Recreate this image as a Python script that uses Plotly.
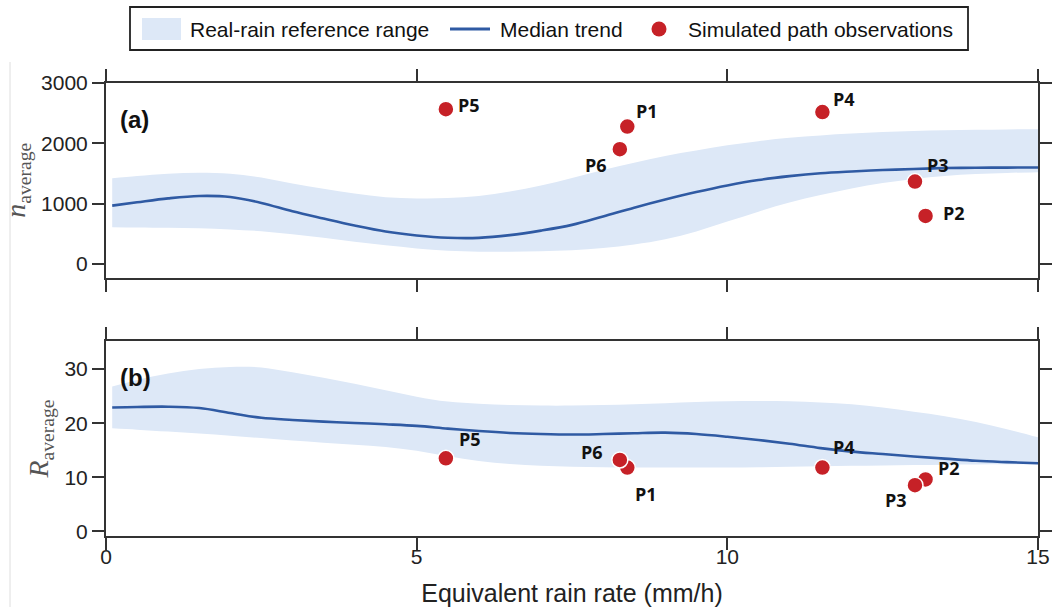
import plotly.graph_objects as go

# ---------------- data ----------------
rain_grid = [0.1, 0.5, 1.0, 1.5, 2.0, 2.5, 3.0, 3.5, 4.0, 4.5, 5.0, 5.5, 6.0, 6.5, 7.0, 7.5,
             8.0, 8.5, 9.0, 9.5, 10.0, 10.5, 11.0, 11.5, 12.0, 12.5, 13.0, 13.5, 14.0, 14.5, 15.0]

n_median = [965, 1020, 1085, 1125, 1108, 1010, 870, 750, 635, 535, 470, 432, 430, 475, 550, 645,
            785, 930, 1065, 1190, 1300, 1390, 1455, 1503, 1532, 1555, 1573, 1588, 1594, 1596, 1597]
n_upper = [1420, 1455, 1495, 1512, 1495, 1430, 1330, 1245, 1165, 1105, 1085, 1090, 1125, 1200, 1300, 1425,
           1555, 1675, 1790, 1880, 1965, 2035, 2090, 2130, 2160, 2185, 2203, 2216, 2224, 2230, 2234]
n_lower = [606, 602, 597, 590, 570, 540, 490, 430, 365, 305, 255, 215, 200, 200, 208, 225,
           260, 318, 405, 535, 700, 865, 1015, 1140, 1250, 1340, 1408, 1458, 1490, 1508, 1520]

r_median = [22.9, 23.0, 23.05, 22.8, 21.9, 21.0, 20.6, 20.3, 20.05, 19.8, 19.5, 19.0, 18.55, 18.2, 18.0, 17.9,
            18.0, 18.15, 18.25, 18.0, 17.5, 16.9, 16.2, 15.4, 14.75, 14.3, 13.85, 13.45, 13.05, 12.8, 12.6]
r_upper = [26.8, 28.0, 29.2, 30.0, 30.4, 30.3, 29.4, 28.4, 27.3, 26.1, 24.9, 24.0, 23.6, 23.35, 23.25, 23.25,
           23.35, 23.5, 23.7, 23.9, 24.05, 24.1, 24.05, 23.85, 23.5, 22.9, 22.1, 21.3, 20.2, 18.9, 17.4]
r_lower = [19.05, 18.8, 18.45, 18.1, 17.7, 17.25, 16.8, 16.4, 16.0, 15.6, 14.9, 13.9, 13.0, 12.45, 12.15, 11.95,
           11.85, 11.8, 11.8, 11.8, 11.8, 11.85, 11.95, 12.05, 12.12, 12.2, 12.27, 12.33, 12.38, 12.4, 12.4]

path_names = ["P1", "P2", "P3", "P4", "P5", "P6"]
path_rain = [8.39, 13.19, 13.02, 11.53, 5.47, 8.27]
path_n = [2277, 794, 1364, 2517, 2566, 1902]
path_r = [11.8, 9.6, 8.55, 11.8, 13.5, 13.2]

legend_labels = ["Real-rain reference range", "Median trend", "Simulated path observations"]

x_ticks = [0, 5, 10, 15]
n_ticks = [0, 1000, 2000, 3000]
r_ticks = [0, 10, 20, 30]

# ---------------- style ----------------
W, H = 1052, 607
ML, MR, MT, MB = 106, 14, 83, 71
PW, PH = W - ML - MR, H - MT - MB

FONT = "Liberation Sans, Arial, sans-serif"
AX = "#333333"
BAND = "rgb(221,232,247)"
LINE = "#2f5aa3"
RED = "#c62127"


def px(xp):
    return (xp - ML) / PW


def py(yp):
    return (H - MB - yp) / PH


# label offsets (pixels) for point labels: (dx, dy) with dy positive downward
label_off_a = {"P1": (20, -16), "P2": (28, -3), "P3": (23, -17), "P4": (22, -13), "P5": (23, -4), "P6": (-24, 16)}
label_off_b = {"P1": (19, 26), "P2": (23, -11), "P3": (-19, 15), "P4": (22, -21), "P5": (24, -19), "P6": (-28, -8)}

fig = go.Figure()


def add_panel(xa, ya, upper, lower, median, pts):
    fig.add_trace(go.Scatter(x=rain_grid, y=upper, mode="lines", line=dict(width=0, shape="spline"),
                             showlegend=False, hoverinfo="skip", xaxis=xa, yaxis=ya))
    fig.add_trace(go.Scatter(x=rain_grid, y=lower, mode="lines", line=dict(width=0, shape="spline"),
                             fill="tonexty", fillcolor=BAND, name=legend_labels[0],
                             showlegend=False, xaxis=xa, yaxis=ya))
    fig.add_trace(go.Scatter(x=rain_grid, y=median, mode="lines", line=dict(width=2.6, color=LINE, shape="spline"),
                             name=legend_labels[1], showlegend=False, xaxis=xa, yaxis=ya))
    fig.add_trace(go.Scatter(x=path_rain, y=pts, mode="markers",
                             marker=dict(size=16, color=RED, line=dict(width=1.5, color="white")),
                             name=legend_labels[2], showlegend=False,
                             text=path_names, xaxis=xa, yaxis=ya))


add_panel("x", "y", n_upper, n_lower, n_median, path_n)
add_panel("x2", "y2", r_upper, r_lower, r_median, path_r)

annotations = []
for name, xv, yv in zip(path_names, path_rain, path_n):
    dx, dy = label_off_a[name]
    annotations.append(dict(x=xv, y=yv, xref="x", yref="y", text="<b>%s</b>" % name, showarrow=False,
                            xshift=dx, yshift=-dy, xanchor="center", yanchor="middle",
                            font=dict(family="Open Sans", size=18, color="#111")))
for name, xv, yv in zip(path_names, path_rain, path_r):
    dx, dy = label_off_b[name]
    annotations.append(dict(x=xv, y=yv, xref="x2", yref="y2", text="<b>%s</b>" % name, showarrow=False,
                            xshift=dx, yshift=-dy, xanchor="center", yanchor="middle",
                            font=dict(family="Open Sans", size=18, color="#111")))
annotations.append(dict(x=0.031, y=0.811, xref="x domain", yref="y domain", text="<b>(a)</b>", showarrow=False,
                        xanchor="center", yanchor="middle", font=dict(family=FONT, size=24, color="#111")))
annotations.append(dict(x=0.032, y=0.815, xref="x2 domain", yref="y2 domain", text="<b>(b)</b>", showarrow=False,
                        xanchor="center", yanchor="middle", font=dict(family=FONT, size=24, color="#111")))

# ---- manual legend (box, swatches, labels) ----
LEG_Y = 29
shapes = [
    dict(type="rect", xref="paper", yref="paper", x0=px(130), x1=px(968), y0=py(50), y1=py(7),
         line=dict(color="#222", width=1.8), fillcolor="white", layer="above"),
    dict(type="rect", xref="paper", yref="paper", x0=px(142), x1=px(181), y0=py(40), y1=py(18),
         line=dict(width=0), fillcolor=BAND, layer="above"),
    dict(type="line", xref="paper", yref="paper", x0=px(450), x1=px(490), y0=py(LEG_Y), y1=py(LEG_Y),
         line=dict(color=LINE, width=3), layer="above"),
    dict(type="circle", xref="paper", yref="paper", x0=px(651.5), x1=px(666.5), y0=py(LEG_Y + 7.5),
         y1=py(LEG_Y - 7.5), line=dict(width=0), fillcolor=RED, layer="above"),
    dict(type="line", xref="paper", yref="paper", x0=-0.103, x1=-0.103, y0=py(62), y1=py(607),
         line=dict(color="#dedede", width=1)),
]
for lab, left in zip(legend_labels, [188, 498, 686]):
    annotations.append(dict(x=px(left), y=py(LEG_Y), xref="paper", yref="paper", text=lab, showarrow=False,
                            xanchor="left", yanchor="middle", font=dict(family=FONT, size=21, color="#111")))

axis_common = dict(showline=True, linecolor=AX, linewidth=2, mirror="allticks", ticks="outside",
                   ticklen=12, tickwidth=2, tickcolor=AX, showgrid=False, zeroline=False,
                   tickfont=dict(family=FONT, size=21, color="#222"))

fig.update_layout(
    width=W, height=H,
    margin=dict(l=ML, r=MR, t=MT, b=MB, autoexpand=False),
    paper_bgcolor="white", plot_bgcolor="white",
    font=dict(family=FONT, color="#222"),
    showlegend=False,
    xaxis=dict(domain=[0, 1], range=[0, 15], tickvals=x_ticks, showticklabels=False, anchor="y", **axis_common),
    yaxis=dict(domain=[0.5704, 1.0], range=[-230, 3000], tickvals=n_ticks, anchor="x",
               title=dict(text="<i>n</i><sub>average</sub>", standoff=8,
                          font=dict(family="Liberation Serif", size=28, color="#555")), **axis_common),
    xaxis2=dict(domain=[0, 1], range=[0, 15], tickvals=x_ticks, anchor="y2", matches="x",
                ticklabelstandoff=-11,
                title=dict(text="Equivalent rain rate (mm/h)", standoff=22,
                           font=dict(family=FONT, size=25, color="#222")), **axis_common),
    yaxis2=dict(domain=[0, 0.4305], range=[-0.85, 35.2], tickvals=r_ticks, anchor="x2",
                title=dict(text="<i>R</i><sub>average</sub>", standoff=8,
                           font=dict(family="Liberation Serif", size=28, color="#555")), **axis_common),
    annotations=annotations,
    shapes=shapes,
)

fig.write_html("out.html")
